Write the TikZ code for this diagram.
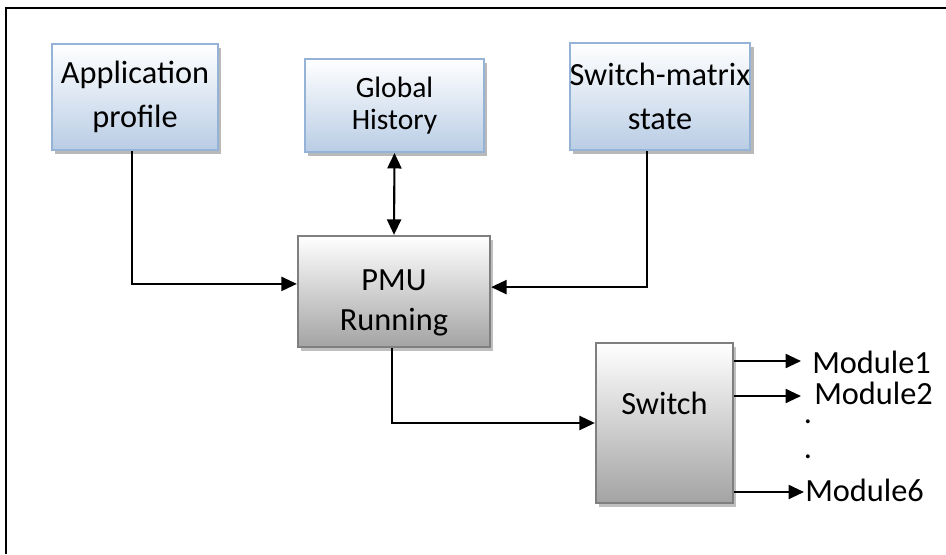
\documentclass[tikz,border=0pt]{standalone}
\usepackage{fontspec}
\setmainfont{Carlito}
\usepackage{tikz}
\usetikzlibrary{arrows.meta,positioning,calc,shadows}
\usepackage{xcolor}
\definecolor{boxblue}{HTML}{B9CDE5}
\definecolor{edgeblue}{HTML}{95B3D7}
\definecolor{edgegray}{HTML}{7F7F7F}

\begin{document}
\begin{tikzpicture}[x=0.025cm, y=-0.025cm,
  infobox/.style={rectangle, draw=edgeblue, line width=1.4pt, top color=white, bottom color=boxblue, align=center,
    drop shadow={shadow xshift=0.08cm, shadow yshift=-0.1cm, fill=gray!55, opacity=1}},
  unitbox/.style={rectangle, draw=edgegray, line width=1.6pt, top color=white, bottom color=gray!72,
    drop shadow={shadow xshift=0.08cm, shadow yshift=-0.1cm, fill=gray!50, opacity=1}},
  boxtext/.style={font=\fontsize{23}{31}\selectfont, align=center},
  arr/.style={-{Triangle[length=11pt, width=10pt]}, line width=1.5pt},
  dblarr/.style={{Triangle[length=11pt, width=10pt]}-{Triangle[length=11pt, width=10pt]}, line width=1.5pt}
]
  \useasboundingbox (0,0) rectangle (946,554);
  % outer frame, open at right and bottom
  \draw[line width=2pt] (6,554) -- (6,8) -- (946,8);

  % input blocks
  \node[infobox, minimum width=4.15cm, minimum height=2.65cm, boxtext] (app) at (135,97) {Application\\profile};
  \node[infobox, minimum width=4.475cm, minimum height=2.325cm, font=\fontsize{21}{23}\selectfont] (hist) at (394.5,105.5) {Global\\History};
  \node[infobox, minimum width=4.1cm, minimum height=2.675cm, inner xsep=0pt, boxtext] (matrix) at (660,96.5) {Switch-matrix\\state};

  % processing blocks
  \node[unitbox, minimum width=4.8cm, minimum height=2.775cm] (pmu) at (394,291.5) {};
  \node[font=\fontsize{23}{28}\selectfont, align=center] (pmutxt) at (394,303) {PMU\\Running};
  \node[unitbox, minimum width=3.425cm, minimum height=4.0cm] (switch) at (664.5,423) {};
  \node[boxtext] (switchtxt) at (664.5,403) {Switch};

  % outputs
  \coordinate (m1) at (801,361);
  \coordinate (m2) at (801,396);
  \coordinate (m6) at (804,492);
  \node[boxtext, anchor=west, inner sep=0pt] (mod1) at (812,362) {Module1};
  \node[boxtext, anchor=west, inner sep=0pt] (mod2) at (814,393) {Module2};
  \node[boxtext, anchor=west, inner sep=0pt] (mod6) at (805,490) {Module6};
  \node[boxtext, inner sep=0pt] (dota) at (808,422) {.};
  \node[boxtext, inner sep=0pt] (dotb) at (808,457) {.};

  % connections
  \draw[arr] ([xshift=-0.075cm]app.south) |- ([yshift=0.19cm]pmu.west);
  \draw[arr] ([xshift=-0.325cm]matrix.south) |- ([yshift=0.11cm]pmu.east);
  \draw[dblarr] (hist.south) -- (pmu.north);
  \draw[arr] ([xshift=-0.05cm]pmu.south) |- (switch.west);
  \draw[arr] (switch.east |- m1) -- (m1);
  \draw[arr] (switch.east |- m2) -- (m2);
  \draw[arr] (switch.east |- m6) -- (m6);
\end{tikzpicture}
\end{document}
